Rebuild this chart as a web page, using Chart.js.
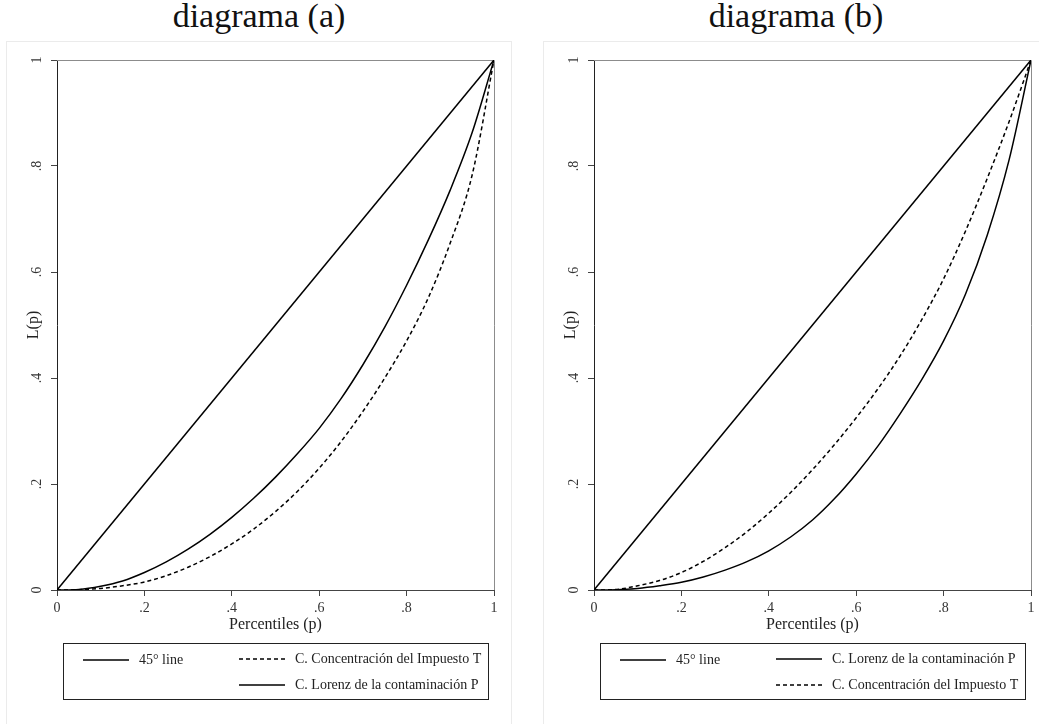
<!DOCTYPE html>
<html>
<head>
<meta charset="utf-8">
<script src="https://cdn.jsdelivr.net/npm/chart.js@4.4.0/dist/chart.umd.min.js"></script>
<style>
body{margin:0;background:#fff;width:1039px;height:724px;overflow:hidden;position:relative;font-family:"Liberation Serif",serif}
.ttl{position:absolute;top:-2px;width:506px;text-align:center;font-size:34px;line-height:36px;color:#111}
.panel{position:absolute;top:41px;width:504px;height:690px;border:1px solid #ebebeb}
canvas{display:block}
</style>
</head>
<body>
<div class="ttl" style="left:6px">diagrama (a)</div>
<div class="ttl" style="left:543px">diagrama (b)</div>
<div class="panel" style="left:6px"><canvas id="chartA" width="504" height="682"></canvas></div>
<div class="panel" style="left:543px"><canvas id="chartB" width="504" height="682"></canvas></div>
<script>
// data
const percentiles = [0, .05, .1, .15, .2, .25, .3, .35, .4, .45, .5, .55, .6, .65, .7, .75, .8, .85, .9, .95, 1];
const line45X = [0, 1];
const line45Y = [0, 1];
// diagrama (a)
const lorenzA = [0, .001, .007, .017, .033, .053, .077, .105, .137, .173, .213, .257, .305, .361, .425, .496, .575, .661, .755, .863, 1];
const concA = [0, .0005, .003, .008, .015, .027, .043, .063, .087, .115, .148, .186, .230, .280, .337, .400, .470, .552, .655, .783, 1];
// diagrama (b)
const lorenzB = [0, .0005, .003, .008, .0145, .0245, .0375, .0535, .074, .100, .132, .172, .219, .272, .332, .397, .470, .558, .670, .812, 1];
const concB = [0, .001, .008, .018, .033, .054, .080, .110, .145, .184, .227, .274, .325, .380, .441, .510, .587, .677, .777, .884, 1];

const tickValues = [0, .2, .4, .6, .8, 1];
const tickLabels = ['0', '.2', '.4', '.6', '.8', '1'];

const FONT = 'Liberation Serif';

function toPoints(xs, ys) {
    return xs.map((x, i) => ({ x: x, y: ys[i] }));
}

function series(label, xs, ys, dash) {
    return {
        label: label,
        data: toPoints(xs, ys),
        showLine: true,
        borderColor: '#000',
        borderWidth: 1.5,
        borderDash: dash,
        pointRadius: 0,
        cubicInterpolationMode: 'monotone',
        fill: false
    };
}

// gray top and right side of the plot box
const plotFrame = {
    id: 'plotFrame',
    beforeDatasetsDraw(chart) {
        const { ctx, chartArea: a } = chart;
        ctx.save();
        ctx.strokeStyle = '#8c8c8c';
        ctx.lineWidth = 1;
        ctx.beginPath();
        ctx.moveTo(a.left, a.top + .5);
        ctx.lineTo(a.right + .5, a.top + .5);
        ctx.lineTo(a.right + .5, a.bottom);
        ctx.stroke();
        ctx.restore();
    }
};

// boxed legend below the plot, two columns
const legendBox = {
    id: 'legendBox',
    afterDraw(chart) {
        const ctx = chart.ctx;
        ctx.save();
        ctx.strokeStyle = '#222';
        ctx.lineWidth = 1;
        ctx.setLineDash([]);
        ctx.strokeRect(56.5, 601.5, 425, 56);
        const slots = [[76, 618], [232, 617], [232, 643]];
        ctx.font = '14px "' + FONT + '"';
        ctx.fillStyle = '#222';
        ctx.textBaseline = 'middle';
        chart.data.datasets.forEach((ds, i) => {
            const [x, y] = slots[i];
            ctx.beginPath();
            ctx.setLineDash(ds.borderDash || []);
            ctx.lineWidth = 1.5;
            ctx.strokeStyle = '#000';
            ctx.moveTo(x, y);
            ctx.lineTo(x + 46, y);
            ctx.stroke();
            ctx.setLineDash([]);
            ctx.fillText(ds.label, x + 56, y);
        });
        ctx.restore();
    }
};

function makeChart(id, datasets) {
    new Chart(document.getElementById(id).getContext('2d'), {
        type: 'scatter',
        data: { datasets: datasets },
        plugins: [plotFrame, legendBox],
        options: {
            responsive: false,
            animation: false,
            layout: { padding: { left: 0, top: 18, right: 17, bottom: 88 } },
            plugins: {
                legend: { display: false },
                tooltip: { enabled: false }
            },
            scales: {
                x: {
                    type: 'linear',
                    min: 0,
                    max: 1,
                    afterBuildTicks: s => { s.ticks = tickValues.map(v => ({ value: v })); },
                    afterFit: s => { s.height = 46; },
                    ticks: {
                        callback: (v, i) => tickLabels[i],
                        font: { family: FONT, size: 14 },
                        color: '#333',
                        padding: 4,
                        maxRotation: 0,
                        autoSkip: false
                    },
                    grid: { drawOnChartArea: false, tickLength: 6, color: '#444' },
                    border: { color: '#444', width: 1 },
                    title: {
                        display: true,
                        text: 'Percentiles (p)',
                        font: { family: FONT, size: 16 },
                        color: '#222',
                        padding: { top: 0, bottom: 2 }
                    }
                },
                y: {
                    type: 'linear',
                    min: 0,
                    max: 1,
                    afterBuildTicks: s => { s.ticks = tickValues.map(v => ({ value: v })); },
                    afterFit: s => { s.width = 50; },
                    ticks: {
                        callback: (v, i) => tickLabels[i],
                        font: { family: FONT, size: 14 },
                        color: '#333',
                        padding: 8,
                        minRotation: 90,
                        maxRotation: 90,
                        crossAlign: 'center',
                        autoSkip: false
                    },
                    grid: { drawOnChartArea: false, tickLength: 6, color: '#444' },
                    border: { color: '#222', width: 1 },
                    title: {
                        display: true,
                        text: 'L(p)',
                        font: { family: FONT, size: 16 },
                        color: '#222',
                        padding: { top: 17, bottom: 0 }
                    }
                }
            }
        }
    });
}

makeChart('chartA', [
    series('45° line', line45X, line45Y, []),
    series('C. Concentración del Impuesto T', percentiles, concA, [4, 3]),
    series('C. Lorenz de la contaminación P', percentiles, lorenzA, [])
]);

makeChart('chartB', [
    series('45° line', line45X, line45Y, []),
    series('C. Lorenz de la contaminación P', percentiles, lorenzB, []),
    series('C. Concentración del Impuesto T', percentiles, concB, [4, 3])
]);
</script>
</body>
</html>
